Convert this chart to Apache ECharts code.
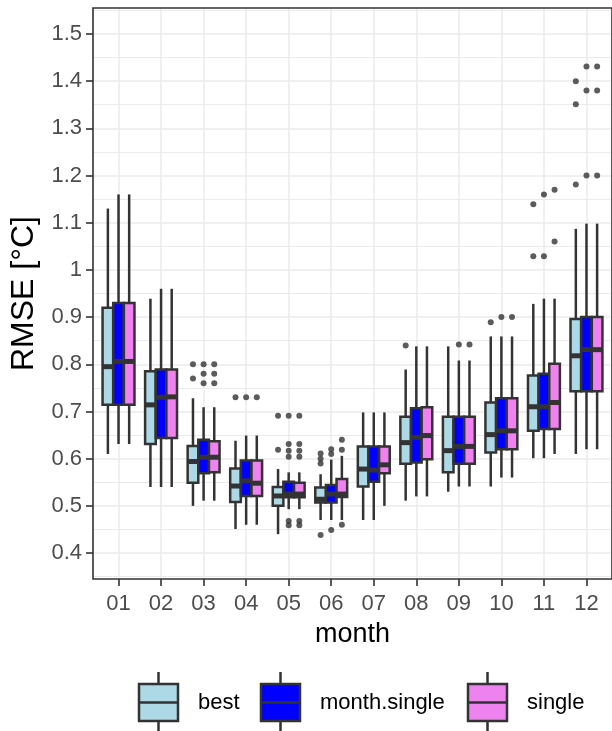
<!DOCTYPE html>
<html>
<head>
<meta charset="utf-8">
<script src="https://cdn.jsdelivr.net/npm/echarts@6/dist/echarts.min.js"></script>
<style>
  html, body { margin: 0; padding: 0; background: #ffffff; }
  #chart { width: 612px; height: 731px; }
</style>
</head>
<body>
<div id="chart"></div>
<script>
// Monthly RMSE distributions for three calibration variants
const months = ['01', '02', '03', '04', '05', '06', '07', '08', '09', '10', '11', '12'];
const groups = ['best', 'month.single', 'single'];
const yTicks = [0.4, 0.5, 0.6, 0.7, 0.8, 0.9, 1.0, 1.1, 1.2, 1.3, 1.4, 1.5];
const yMinorLines = [0.35, 0.45, 0.55, 0.65, 0.75, 0.85, 0.95, 1.05, 1.15, 1.25, 1.35, 1.45, 1.55];

// [lower whisker, Q1, median, Q3, upper whisker] per month
const bestBox = [
  [0.610, 0.714, 0.795, 0.920, 1.130],
  [0.540, 0.631, 0.714, 0.785, 0.939],
  [0.500, 0.549, 0.594, 0.627, 0.728],
  [0.451, 0.508, 0.542, 0.579, 0.638],
  [0.440, 0.500, 0.521, 0.540, 0.578],
  [0.470, 0.507, 0.514, 0.539, 0.567],
  [0.470, 0.541, 0.578, 0.626, 0.698],
  [0.511, 0.589, 0.634, 0.689, 0.789],
  [0.530, 0.571, 0.617, 0.689, 0.838],
  [0.541, 0.613, 0.651, 0.719, 0.859],
  [0.601, 0.659, 0.710, 0.776, 0.928],
  [0.610, 0.743, 0.818, 0.896, 1.087]
];
const monthSingleBox = [
  [0.631, 0.714, 0.806, 0.930, 1.160],
  [0.540, 0.644, 0.730, 0.789, 0.960],
  [0.511, 0.569, 0.603, 0.640, 0.709],
  [0.460, 0.521, 0.553, 0.596, 0.649],
  [0.493, 0.518, 0.525, 0.551, 0.571],
  [0.470, 0.507, 0.525, 0.544, 0.598],
  [0.470, 0.551, 0.576, 0.626, 0.698],
  [0.520, 0.592, 0.645, 0.707, 0.838],
  [0.541, 0.589, 0.626, 0.689, 0.808],
  [0.560, 0.620, 0.659, 0.728, 0.859],
  [0.601, 0.663, 0.710, 0.780, 0.939],
  [0.620, 0.743, 0.831, 0.900, 1.098]
];
const singleBox = [
  [0.631, 0.714, 0.806, 0.930, 1.160],
  [0.540, 0.644, 0.731, 0.789, 0.960],
  [0.511, 0.571, 0.603, 0.637, 0.709],
  [0.460, 0.521, 0.548, 0.596, 0.649],
  [0.493, 0.518, 0.525, 0.549, 0.571],
  [0.470, 0.519, 0.525, 0.557, 0.606],
  [0.500, 0.569, 0.587, 0.626, 0.698],
  [0.520, 0.599, 0.649, 0.709, 0.838],
  [0.541, 0.589, 0.626, 0.689, 0.808],
  [0.560, 0.620, 0.659, 0.728, 0.859],
  [0.610, 0.663, 0.719, 0.801, 0.939],
  [0.620, 0.743, 0.831, 0.900, 1.098]
];

// Outliers: [month number, RMSE]
const bestOut = [
  [3, 0.800], [3, 0.770], [4, 0.730], [5, 0.691], [5, 0.619],
  [6, 0.611], [6, 0.600], [6, 0.590], [6, 0.438], [8, 0.840],
  [10, 0.889], [11, 1.029], [11, 1.139], [12, 1.181], [12, 1.351], [12, 1.400]
];
const monthSingleOut = [
  [3, 0.800], [3, 0.780], [3, 0.760], [4, 0.730], [5, 0.691],
  [5, 0.631], [5, 0.617], [5, 0.604], [5, 0.468], [5, 0.459],
  [6, 0.620], [6, 0.610], [6, 0.449], [9, 0.842], [10, 0.900],
  [11, 1.029], [11, 1.160], [12, 1.200], [12, 1.380], [12, 1.431]
];
const singleOut = [
  [3, 0.800], [3, 0.780], [3, 0.760], [4, 0.730], [5, 0.691],
  [5, 0.631], [5, 0.617], [5, 0.604], [5, 0.468], [5, 0.459],
  [6, 0.640], [6, 0.619], [6, 0.460], [9, 0.842], [10, 0.900],
  [11, 1.060], [11, 1.170], [12, 1.200], [12, 1.380], [12, 1.431]
];

const fills = ['#ADD8E6', '#0000FF', '#EE82EE'];
const dodge = [-0.25, 0, 0.25];
const BOX_HALF = 0.125;
const INK = '#333333';
const FONT = 'Liberation Sans, Arial, sans-serif';

function boxRenderer(offset, fill) {
  return function (params, api) {
    const x = api.value(0) + offset;
    const lo = api.value(1), q1 = api.value(2), md = api.value(3), q3 = api.value(4), hi = api.value(5);
    const pHi = api.coord([x, hi]);
    const pQ3 = api.coord([x, q3]);
    const pQ1 = api.coord([x, q1]);
    const pLo = api.coord([x, lo]);
    const tl = api.coord([x - BOX_HALF, q3]);
    const br = api.coord([x + BOX_HALF, q1]);
    const mL = api.coord([x - BOX_HALF, md]);
    const mR = api.coord([x + BOX_HALF, md]);
    const lineStyle = { stroke: INK, lineWidth: 2.5 };
    return {
      type: 'group',
      children: [
        { type: 'line', shape: { x1: pHi[0], y1: pHi[1], x2: pQ3[0], y2: pQ3[1] }, style: lineStyle },
        { type: 'line', shape: { x1: pQ1[0], y1: pQ1[1], x2: pLo[0], y2: pLo[1] }, style: lineStyle },
        { type: 'rect', shape: { x: tl[0], y: tl[1], width: br[0] - tl[0], height: br[1] - tl[1] },
          style: { fill: fill, stroke: INK, lineWidth: 2.5 } },
        { type: 'line', shape: { x1: mL[0], y1: mL[1], x2: mR[0], y2: mR[1] },
          style: { stroke: INK, lineWidth: 5 } }
      ]
    };
  };
}

const boxSets = [bestBox, monthSingleBox, singleBox];
const outSets = [bestOut, monthSingleOut, singleOut];

const series = [];
groups.forEach(function (name, g) {
  series.push({
    name: name,
    type: 'custom',
    xAxisIndex: 0,
    yAxisIndex: 0,
    renderItem: boxRenderer(dodge[g], fills[g]),
    encode: { x: 0, y: [1, 2, 3, 4, 5] },
    data: boxSets[g].map(function (row, i) { return [i + 1].concat(row); }),
    clip: false,
    z: 3
  });
});
groups.forEach(function (name, g) {
  series.push({
    name: name + ' outliers',
    type: 'scatter',
    xAxisIndex: 0,
    yAxisIndex: 0,
    symbol: 'circle',
    symbolSize: 6,
    itemStyle: { color: INK },
    data: outSets[g].map(function (p) { return [p[0] + dodge[g], p[1]]; }),
    z: 4
  });
});

// Legend keys drawn as miniature boxplots
const legendKeys = [
  { label: 'best', x: 139, tx: 198, fill: fills[0] },
  { label: 'month.single', x: 261, tx: 320, fill: fills[1] },
  { label: 'single', x: 468, tx: 527, fill: fills[2] }
];
const KEY_W = 39, KEY_TOP = 684, KEY_H = 37;
const legendGraphics = [];
legendKeys.forEach(function (k) {
  const cx = k.x + KEY_W / 2;
  legendGraphics.push(
    { type: 'line', shape: { x1: cx, y1: 672, x2: cx, y2: KEY_TOP }, style: { stroke: INK, lineWidth: 2.5 } },
    { type: 'line', shape: { x1: cx, y1: KEY_TOP + KEY_H, x2: cx, y2: 733 }, style: { stroke: INK, lineWidth: 2.5 } },
    { type: 'rect', shape: { x: k.x, y: KEY_TOP, width: KEY_W, height: KEY_H }, style: { fill: k.fill, stroke: INK, lineWidth: 2.5 } },
    { type: 'line', shape: { x1: k.x, y1: KEY_TOP + KEY_H / 2, x2: k.x + KEY_W, y2: KEY_TOP + KEY_H / 2 }, style: { stroke: INK, lineWidth: 2.5 } },
    { type: 'text', x: k.tx, y: KEY_TOP + KEY_H / 2, style: { text: k.label, fill: '#000000', font: '22px ' + FONT, textVerticalAlign: 'middle', textAlign: 'left' } }
  );
});

function fmtNum(v) { return String(Number(v.toFixed(2))); }

const chart = echarts.init(document.getElementById('chart'), null, { renderer: 'canvas' });
chart.setOption({
  backgroundColor: '#ffffff',
  animation: false,
  grid: {
    left: 93, right: -2, top: 8, bottom: 152,
    show: true, borderColor: INK, borderWidth: 1.6, backgroundColor: 'transparent',
    z: 5
  },
  xAxis: [{
    type: 'value',
    min: 0.4, max: 12.6,
    name: 'month',
    nameLocation: 'middle',
    nameGap: 42,
    nameTextStyle: { fontSize: 27, color: '#000000', fontFamily: FONT },
    axisLine: { show: false },
    axisTick: { show: true, length: 7, lineStyle: { color: INK, width: 1.6 }, customValues: months.map(function (m, i) { return i + 1; }) },
    axisLabel: {
      customValues: months.map(function (m, i) { return i + 1; }),
      formatter: function (v) { return months[Math.round(v) - 1]; },
      fontSize: 22, color: '#4d4d4d', fontFamily: FONT, margin: 14
    },
    splitLine: { show: true, lineStyle: { color: '#ebebeb', width: 1.5 } }
  }],
  yAxis: [{
    type: 'value',
    min: 0.345, max: 1.555,
    name: 'RMSE [°C]',
    nameLocation: 'middle',
    nameRotate: 90,
    nameGap: 50,
    nameTextStyle: { fontSize: 32, color: '#000000', fontFamily: FONT },
    axisLine: { show: false },
    axisTick: { show: true, length: 7, lineStyle: { color: INK, width: 1.6 }, customValues: yTicks },
    axisLabel: {
      customValues: yTicks,
      formatter: fmtNum,
      fontSize: 22, color: '#4d4d4d', fontFamily: FONT, margin: 11
    },
    splitLine: { show: true, lineStyle: { color: '#ebebeb', width: 1.6 } }
  }, {
    type: 'value',
    position: 'left',
    min: 0.345, max: 1.555,
    axisLine: { show: false },
    axisTick: { show: false, customValues: yMinorLines },
    axisLabel: { show: false, customValues: yMinorLines },
    splitLine: { show: true, lineStyle: { color: '#ebebeb', width: 1.2 } }
  }],
  graphic: legendGraphics,
  series: series
});
</script>
</body>
</html>
